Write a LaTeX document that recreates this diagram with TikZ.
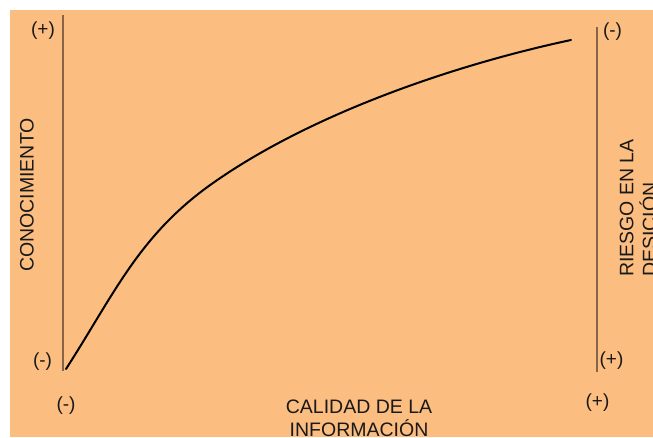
\documentclass[tikz,border=0pt]{standalone}
\usepackage{fontspec}
\setmainfont{Liberation Sans}
\definecolor{bgorange}{RGB}{252,189,128}
\definecolor{axisbrown}{RGB}{135,100,72}
\tikzset{
  lbl/.style={inner sep=0pt, font=\fontsize{19.5}{23}\selectfont, text=black!90},
  sgn/.style={inner sep=0pt, font=\fontsize{19}{20}\selectfont, text=black!90},
  axisline/.style={draw=axisbrown, line width=2.2pt},
  curveline/.style={draw=black, line width=2pt, line cap=round}
}
\begin{document}
\begin{tikzpicture}[x=1pt,y=-1pt]
\useasboundingbox (0,0) rectangle (653,437);
\fill[white] (0,0) rectangle (653,437);
\fill[bgorange] (10,10) rectangle (653,437);
% axes
\coordinate (ltop) at (63,15);
\coordinate (lbot) at (63,371);
\coordinate (rtop) at (597,27);
\coordinate (rbot) at (597,372);
\draw[axisline] (ltop) -- (lbot);
\draw[axisline] (rtop) -- (rbot);
% curve
\coordinate (cstart) at (66,369);
\coordinate (cmid) at (213,183);
\coordinate (cend) at (571,40);
\draw[curveline] (cstart) .. controls (114.6,293.4) and (139.3,234.7) .. (cmid)
  .. controls (311,114) and (453.6,65) .. (cend);
% signs
\node[sgn] (s1) at (43,31) {(+)};
\node[sgn] (s2) at (42.5,362) {(-)};
\node[sgn] (s3) at (66,406) {(-)};
\node[sgn] (s4) at (597.5,403) {(+)};
\node[sgn] (s5) at (612.5,32) {(-)};
\node[sgn] (s6) at (611.5,361) {(+)};
% labels
\node[lbl, rotate=90] (conoc) at (27,195) {CONOCIMIENTO};
\node[lbl, rotate=90, anchor=north west, align=left] (riesgo) at (619.5,277) {RIESGO EN LA\\DESICIÓN};
\node[lbl, anchor=north, align=center] (calidad) at (359,400) {CALIDAD DE LA\\INFORMACIÓN};
\end{tikzpicture}
\end{document}
